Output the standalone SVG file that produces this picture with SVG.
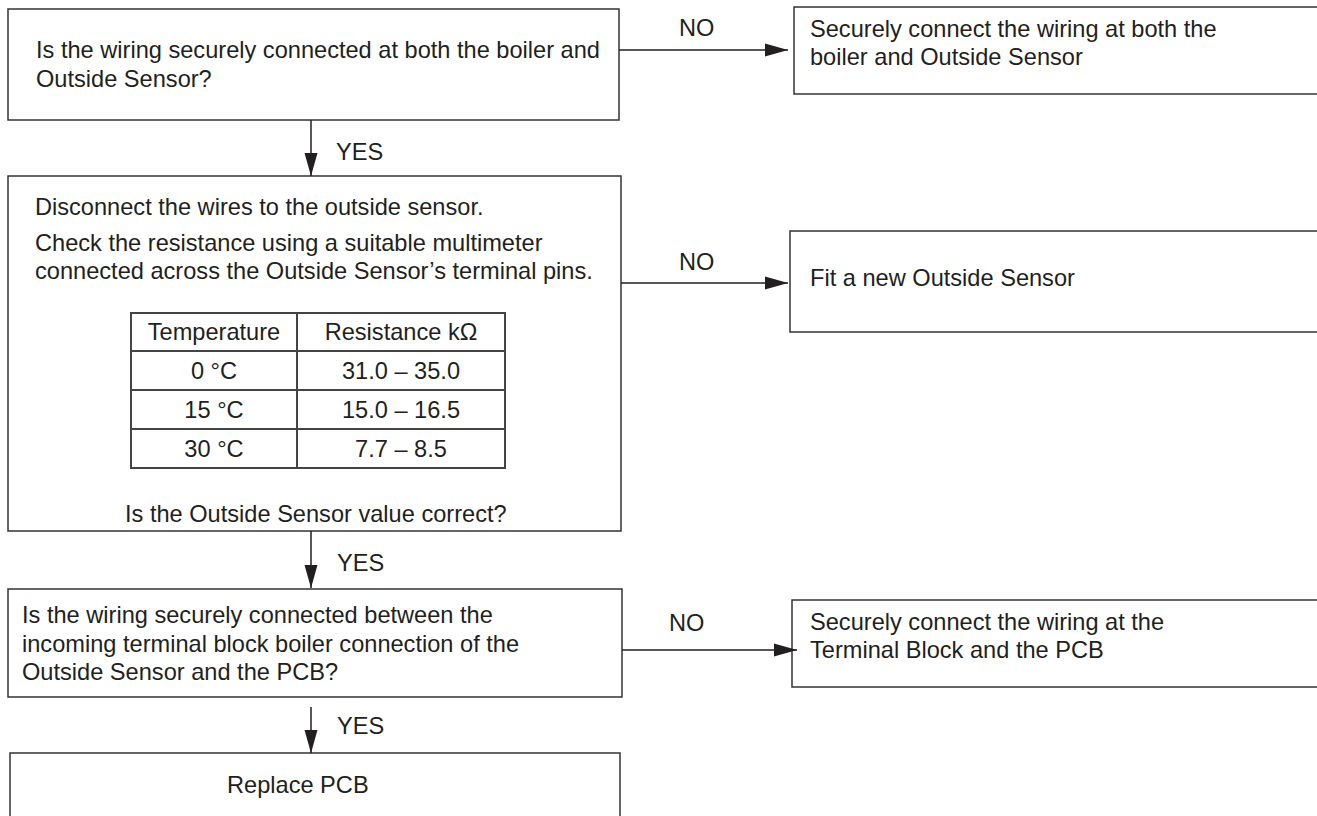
<svg xmlns="http://www.w3.org/2000/svg" width="1317" height="816" viewBox="0 0 1317 816">
<style>
  .box { fill: #ffffff; stroke: #333333; stroke-width: 1.5; }
  .tbl { fill: none; stroke: #444444; stroke-width: 2; }
  .t { font-family: "Liberation Sans", Arial, sans-serif; font-size: 23.6px; fill: #231f20; }
  .c { text-anchor: middle; }
  .conn { stroke: #231f20; stroke-width: 1.5; fill: none; }
</style>
<defs>
  <marker id="ah" markerUnits="userSpaceOnUse" markerWidth="24" markerHeight="14" refX="23" refY="7" orient="auto">
    <path d="M0,0.5 L23,7 L0,13.5 z" fill="#231f20"/>
  </marker>
</defs>
<rect width="1317" height="816" fill="#ffffff"/>

<g id="n1">
  <rect class="box" x="8" y="9" width="611" height="111"/>
  <text class="t" x="36" y="58">Is the wiring securely connected at both the boiler and</text>
  <text class="t" x="36" y="87">Outside Sensor?</text>
</g>

<g id="n2">
  <rect class="box" x="794" y="7" width="540" height="87"/>
  <text class="t" x="810" y="37">Securely connect the wiring at both the</text>
  <text class="t" x="810" y="65">boiler and Outside Sensor</text>
</g>

<g id="n3">
  <rect class="box" x="8" y="176" width="613" height="355"/>
  <text class="t" x="35" y="215">Disconnect the wires to the outside sensor.</text>
  <text class="t" x="35" y="251">Check the resistance using a suitable multimeter</text>
  <text class="t" x="35" y="279">connected across the Outside Sensor’s terminal pins.</text>
  <g id="table">
    <rect class="tbl" x="131" y="313" width="374" height="155"/>
    <line class="tbl" x1="297" y1="313" x2="297" y2="468"/>
    <line class="tbl" x1="131" y1="351" x2="505" y2="351"/>
    <line class="tbl" x1="131" y1="390" x2="505" y2="390"/>
    <line class="tbl" x1="131" y1="429" x2="505" y2="429"/>
    <text class="t c" x="214" y="340">Temperature</text>
    <text class="t c" x="401" y="340">Resistance kΩ</text>
    <text class="t c" x="214" y="379">0 °C</text>
    <text class="t c" x="401" y="379">31.0 – 35.0</text>
    <text class="t c" x="214" y="418">15 °C</text>
    <text class="t c" x="401" y="418">15.0 – 16.5</text>
    <text class="t c" x="214" y="457">30 °C</text>
    <text class="t c" x="401" y="457">7.7 – 8.5</text>
  </g>
  <text class="t" x="125" y="522">Is the Outside Sensor value correct?</text>
</g>

<g id="n4">
  <rect class="box" x="790" y="231" width="545" height="101"/>
  <text class="t" x="810" y="286">Fit a new Outside Sensor</text>
</g>

<g id="n5">
  <rect class="box" x="8" y="589" width="614" height="108"/>
  <text class="t" x="22" y="623">Is the wiring securely connected between the</text>
  <text class="t" x="22" y="652">incoming terminal block boiler connection of the</text>
  <text class="t" x="22" y="680">Outside Sensor and the PCB?</text>
</g>

<g id="n6">
  <rect class="box" x="792" y="600" width="540" height="87"/>
  <text class="t" x="810" y="630">Securely connect the wiring at the</text>
  <text class="t" x="810" y="658">Terminal Block and the PCB</text>
</g>

<g id="n7">
  <rect class="box" x="10" y="753" width="610" height="80"/>
  <text class="t" x="227" y="793">Replace PCB</text>
</g>

<g id="connectors">
  <line class="conn" x1="619" y1="50" x2="788" y2="50" marker-end="url(#ah)"/>
  <line class="conn" x1="621" y1="283" x2="788" y2="283" marker-end="url(#ah)"/>
  <line class="conn" x1="622" y1="650" x2="797" y2="650" marker-end="url(#ah)"/>
  <line class="conn" x1="311" y1="120" x2="311" y2="176" marker-end="url(#ah)"/>
  <line class="conn" x1="311" y1="531" x2="311" y2="588" marker-end="url(#ah)"/>
  <line class="conn" x1="311" y1="707" x2="311" y2="753" marker-end="url(#ah)"/>
  <text class="t" x="679" y="36">NO</text>
  <text class="t" x="679" y="270">NO</text>
  <text class="t" x="669" y="631">NO</text>
  <text class="t" x="336" y="160">YES</text>
  <text class="t" x="337" y="571">YES</text>
  <text class="t" x="337" y="734">YES</text>
</g>
</svg>
